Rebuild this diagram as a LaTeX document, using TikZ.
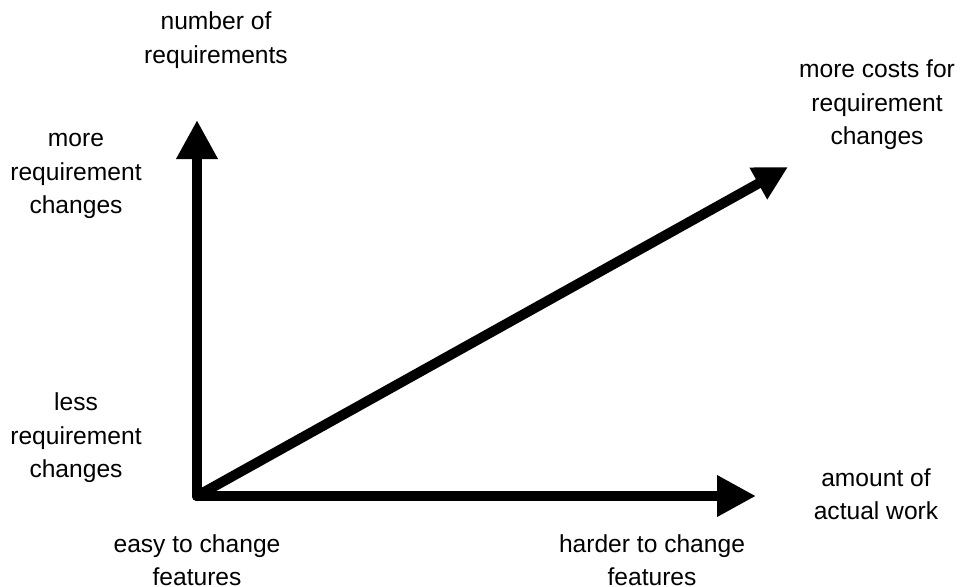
\documentclass[tikz,border=0pt]{standalone}
\usepackage{fontspec}
\setmainfont{Liberation Sans}
\usetikzlibrary{arrows.meta}
\begin{document}
\begin{tikzpicture}[x=0.02cm,y=-0.02cm,line width=0.2cm,line cap=round,
		>={Triangle[length=0.78cm,width=0.78cm]},
		lbl/.style={align=center,font=\fontsize{14}{19}\selectfont}]
			\useasboundingbox (0,0) rectangle (963,586);
			\coordinate (O) at (197,496);
			\coordinate (ytip) at (197,120);
			\coordinate (xtip) at (756,496);
			\coordinate (dtip) at (788,167);
			\draw[->] (O)--(ytip);
			\draw[->] (O)--(xtip);
			\draw[-{Triangle[length=0.68cm,width=0.68cm]}] (O)--(dtip);
			\node[lbl] (numreq) at (216,40) {number of\\requirements};
			\node[lbl] (morereq) at (76,176) {more\\requirement\\changes};
			\node[lbl] (lessreq) at (76,438) {less\\requirement\\changes};
			\node[lbl] (easy) at (197,560) {easy to change\\features};
			\node[lbl] (harder) at (652,560) {harder to change\\features};
			\node[lbl] (work) at (876,494) {amount of\\actual work};
			\node[lbl] (costs) at (877,105) {more costs for\\requirement\\changes};
		\end{tikzpicture}
\end{document}
